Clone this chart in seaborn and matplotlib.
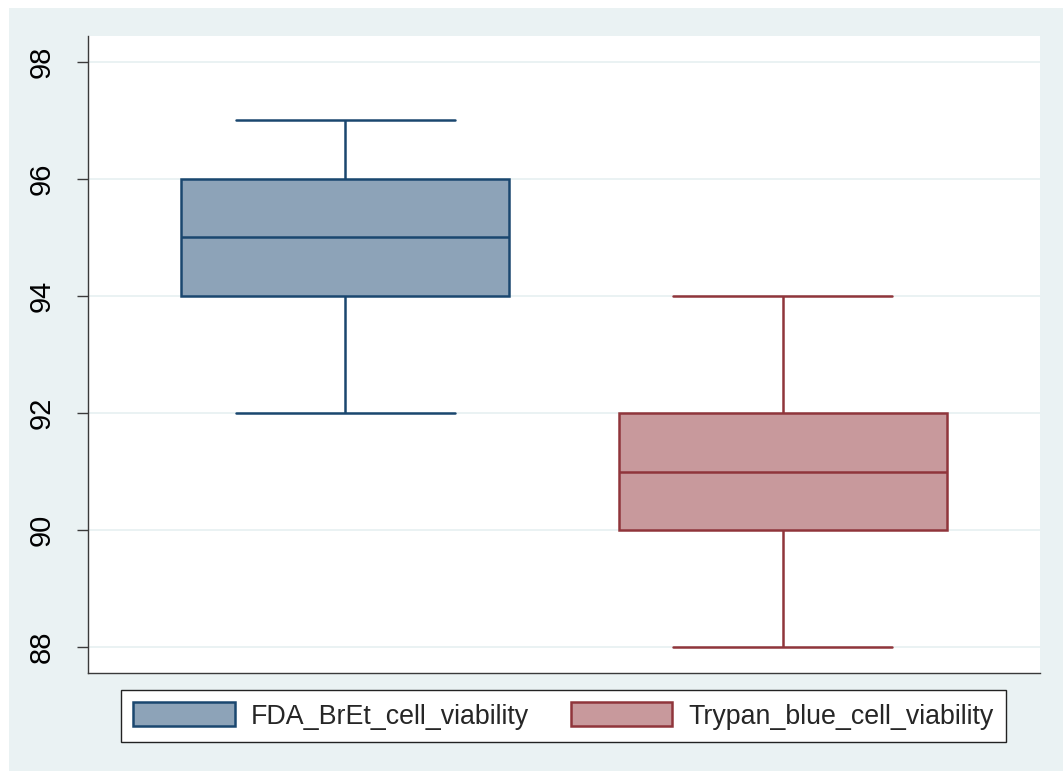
import matplotlib
matplotlib.use("Agg")
import matplotlib.pyplot as plt
import matplotlib.patches as mpatches
import numpy as np
import pandas as pd
import seaborn as sns

# Viability measurements (%) for the two staining methods
categories = ["FDA_BrEt_cell_viability", "Trypan_blue_cell_viability"]
fda_values = [92, 94, 94, 95, 95, 96, 96, 97]
trypan_values = [88, 90, 90, 91, 91, 92, 92, 94]
y_ticks = [88, 90, 92, 94, 96, 98]

fills = ["#8DA3B8", "#C8999C"]
edges = ["#1A476F", "#90353B"]
panel_bg = "#EAF2F3"

df = pd.DataFrame({
    "method": [categories[0]] * len(fda_values) + [categories[1]] * len(trypan_values),
    "viability": fda_values + trypan_values,
})

sns.set_theme(style="white")
plt.rcParams["font.family"] = ["Liberation Sans", "DejaVu Sans"]

fig = plt.figure(figsize=(10.63, 7.71), dpi=100, facecolor="white")
# shaded graph region behind the plot
fig.patches.append(mpatches.Rectangle((9 / 1063, 0), 1 - 9 / 1063, 1 - 8 / 771,
                                      transform=fig.transFigure, facecolor=panel_bg,
                                      edgecolor="none", zorder=-10))

ax = fig.add_axes([88 / 1063, 1 - 673 / 771, (1040 - 88) / 1063, (673 - 36) / 771])
ax.set_facecolor("white")

for cat, fc, ec in zip(categories, fills, edges):
    sns.boxplot(data=df[df["method"] == cat], x="method", y="viability",
                order=categories, color=fc, linecolor=ec, saturation=1,
                width=0.75, linewidth=1.8, capwidths=0.5, ax=ax, zorder=3)

ax.set_xlim(-0.587, 1.587)
ax.set_ylim(87.56, 98.44)
ax.set_yticks(y_ticks)
ax.set_yticklabels([str(t) for t in y_ticks])
ax.set_xticks([])
ax.set_xlabel("")
ax.set_ylabel("")

ax.yaxis.grid(True, color=panel_bg, linewidth=1.4, zorder=0)
ax.set_axisbelow(True)
for side in ["top", "right"]:
    ax.spines[side].set_visible(False)
for side in ["left", "bottom"]:
    ax.spines[side].set_color("#3A3A3A")
    ax.spines[side].set_linewidth(1.0)

ax.tick_params(axis="y", left=True, length=8, width=1.0, color="#3A3A3A",
               labelsize=21, labelcolor="black", pad=15, labelrotation=90)
for lab in ax.get_yticklabels():
    lab.set_va("center")

handles = [mpatches.Patch(facecolor=fc, edgecolor=ec, linewidth=1.8, label=cat)
           for cat, fc, ec in zip(categories, fills, edges)]
leg = fig.legend(handles=handles, loc="center", bbox_to_anchor=(0.530, 0.0713),
                 ncol=2, fontsize=19.3, frameon=True, fancybox=False,
                 handlelength=3.8, handleheight=1.0, handletextpad=0.6,
                 columnspacing=1.55, borderpad=0.45)
leg.get_frame().set_edgecolor("#222222")
leg.get_frame().set_linewidth(1.0)
leg.get_frame().set_facecolor("white")
leg.get_frame().set_alpha(1)

fig.savefig("out.png", dpi=100, facecolor=fig.get_facecolor())
